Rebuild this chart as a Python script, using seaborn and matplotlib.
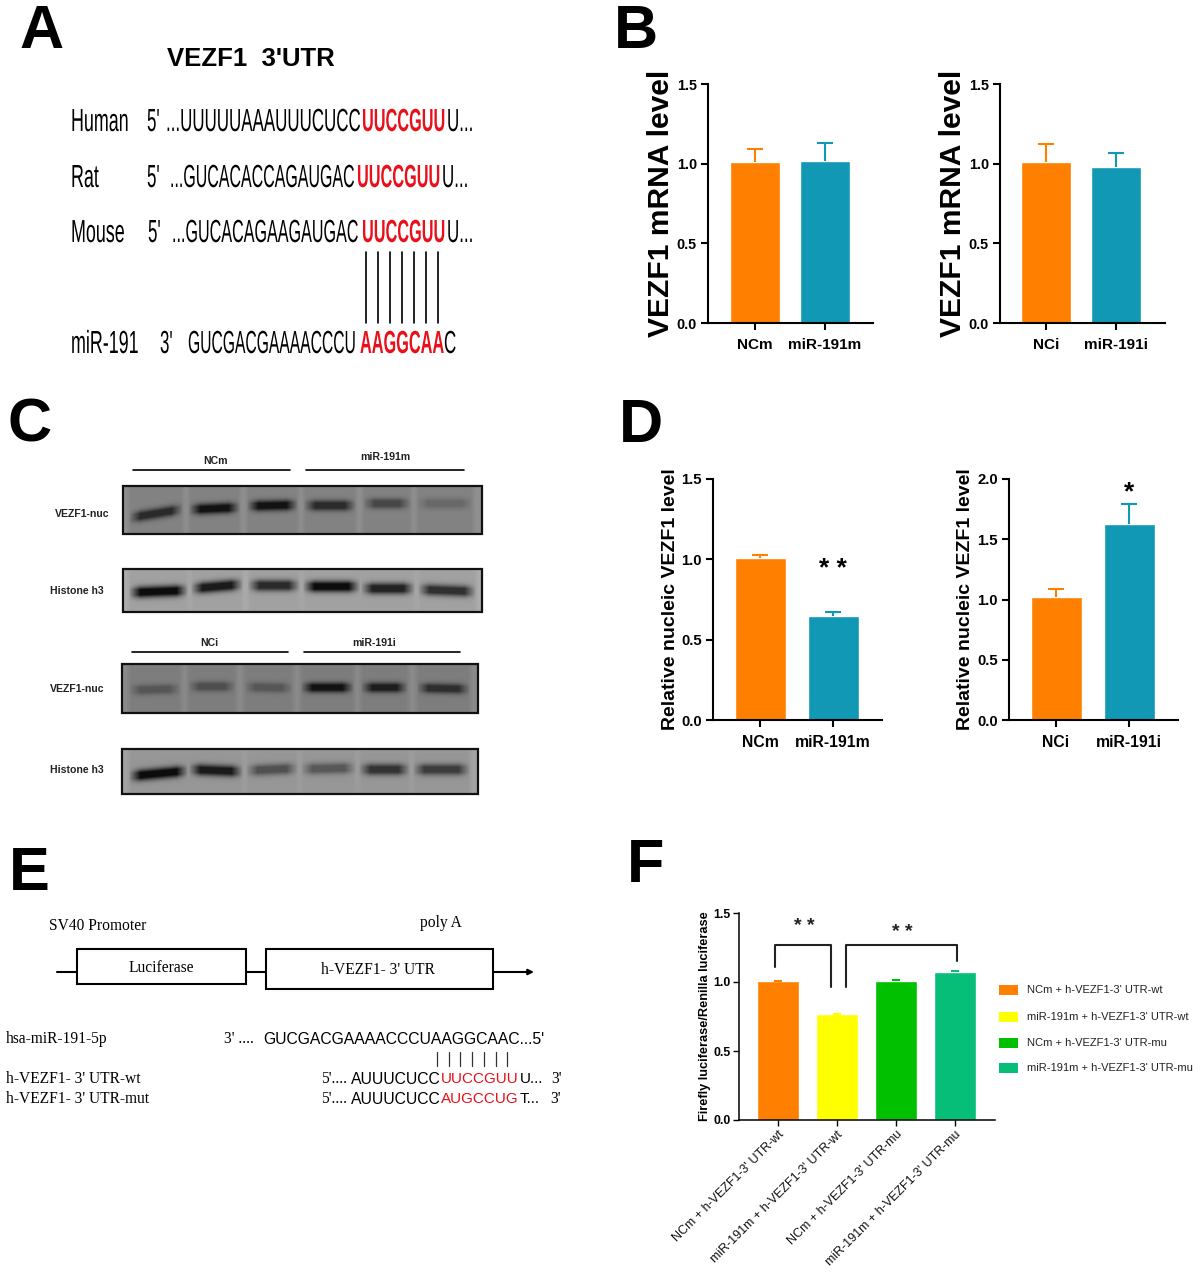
import numpy as np
import pandas as pd
import matplotlib
matplotlib.use('Agg')
import matplotlib.pyplot as plt
from matplotlib.patches import Rectangle
from matplotlib.patheffects import AbstractPathEffect
from matplotlib.transforms import Affine2D
import seaborn as sns

# bar data
orange = '#FF8000'
teal = '#1098B4'
b1_names = ['NCm', 'miR-191m']
b1_vals = [1.01, 1.015]
b1_err = [0.08, 0.115]
b2_names = ['NCi', 'miR-191i']
b2_vals = [1.01, 0.98]
b2_err = [0.115, 0.09]
d1_vals = [1.01, 0.65]
d1_err = [0.015, 0.02]
d2_vals = [1.02, 1.63]
d2_err = [0.07, 0.165]
f_names = ["NCm + h-VEZF1-3' UTR-wt", "miR-191m + h-VEZF1-3' UTR-wt",
           "NCm + h-VEZF1-3' UTR-mu", "miR-191m + h-VEZF1-3' UTR-mu"]
f_vals = [1.005, 0.765, 1.01, 1.075]
f_err = [0.002, 0.001, 0.008, 0.008]
f_colors = ['#FF8000', '#FFFF00', '#00C000', '#06BE78']

# band darkness per lane (0-1) for the four blots
blot1_dark = [0.75, 0.95, 0.95, 0.75, 0.5, 0.22]
blot2_dark = [1.0, 0.9, 0.8, 1.0, 0.85, 0.75]
blot3_dark = [0.35, 0.42, 0.35, 0.95, 0.85, 0.7]
blot4_dark = [1.0, 0.9, 0.5, 0.45, 0.72, 0.65]

W, H = 1200, 1272
sns.set_theme(style='ticks')
fig = plt.figure(figsize=(W / 100, H / 100), dpi=100)

# whole figure axes in pixels, used for the non chart panels
bg = fig.add_axes([0, 0, 1, 1])
bg.set_xlim(0, W)
bg.set_ylim(H, 0)
bg.axis('off')

SANS = 'Liberation Sans'
SERIF = 'Liberation Serif'


class Squeeze(AbstractPathEffect):
    # the panel A font is a very narrow one, none is installed so squeeze the glyphs sideways
    def __init__(self, x0, sx):
        super().__init__()
        self.x0, self.sx = x0, sx

    def draw_path(self, renderer, gc, tpath, affine, rgbFace=None):
        squeeze = Affine2D().translate(-self.x0, 0).scale(self.sx, 1).translate(self.x0, 0)
        renderer.draw_path(gc, tpath, affine + squeeze, rgbFace)


def txt(x, y, s, size, family=SANS, weight='normal', color='black', ha='left', **kw):
    return bg.text(x, y, s, fontsize=size, family=family, weight=weight, color=color,
                   ha=ha, va='center', **kw)


def narrow(x, y, s, weight='normal', color='black', sx=0.53):
    t = txt(x, y, s, 23, weight=weight, color=color)
    t.set_path_effects([Squeeze(bg.transData.transform((x, y))[0], sx)])


for letter, x, y in [('A', 19, 33), ('B', 614, 33), ('C', 8, 426), ('D', 619, 426),
                     ('E', 9, 875), ('F', 627, 866)]:
    txt(x, y, letter, 44, weight='bold')

# panel A
txt(167, 59, "VEZF1  3'UTR", 18.5, weight='bold')
rows = [('Human', 123, 147, 166, '...UUUUUAAAUUUCUCC', 0.53, 362, 'UUCCGUU', 'U...'),
        ('Rat', 179, 147, 170, '...GUCACACCAGAUGAC', 0.50, 357, 'UUCCGUU', 'U...'),
        ('Mouse', 234, 148, 172, '...GUCACAGAAGAUGAC', 0.505, 362, 'UUCCGUU', 'U...')]
for name, y, x5, xs, left, sq, xr, red, right in rows:
    narrow(71, y, name, sx=0.56)
    narrow(x5, y, "5'")
    narrow(xs, y, left, sx=sq)
    narrow(xr, y, red, weight='bold', color='#E8101A', sx=0.51)
    narrow(xr + 85, y, right)
narrow(71, 345, 'miR-191', sx=0.56)
narrow(160, 345, "3'")
narrow(188, 345, 'GUCGACGAAAACCCU', sx=0.49)
narrow(360, 345, 'AAGGCAA', weight='bold', color='#E8101A', sx=0.51)
narrow(444, 345, 'C')
for x in [366, 378, 390, 402, 414, 426, 438]:
    bg.plot([x, x], [252, 323], color='black', lw=1.2)


# panel C blots
def draw_blot(box, lanes, centres, tilts, dark, back, sigma):
    x0, x1, y0, y1 = box
    xs, ys = np.meshgrid(np.arange(x0, x1), np.arange(y0, y1))
    img = np.full(xs.shape, back, dtype=float)
    for (a, b), c, t, d in zip(lanes, centres, tilts, dark):
        across = np.clip((xs - a + 3) / 12, 0, 1) * np.clip((b - xs + 3) / 12, 0, 1)
        yc = c + t * (xs - (a + b) / 2) / (b - a)
        band = np.minimum(1, 1.25 * np.exp(-(ys - yc) ** 2 / (2 * sigma ** 2)))
        img -= 0.05 * np.clip((xs - a + 6) / 6, 0, 1) * np.clip((b - xs + 6) / 6, 0, 1)
        img -= d * (back - 0.1) * across * band
    bg.imshow(img, extent=(x0, x1, y1, y0), cmap='gray', vmin=0, vmax=1, aspect='auto',
              interpolation='bilinear', zorder=1)
    bg.add_patch(Rectangle((x0, y0), x1 - x0, y1 - y0, fill=False, ec='#111111', lw=1.6, zorder=2))


lanes1 = [(131, 180), (191, 237), (249, 295), (306, 353), (365, 408), (419, 470)]
lanes2 = [(131, 185), (193, 240), (250, 297), (305, 357), (363, 412), (420, 473)]
lanes3 = [(131, 178), (190, 233), (246, 290), (303, 351), (363, 405), (419, 467)]
lanes4 = [(131, 185), (191, 240), (248, 295), (303, 353), (361, 407), (415, 467)]
draw_blot((123, 482, 486, 534), lanes1, [513, 508, 505, 505, 503, 503], [-8, -2, -1, 0, 0, 0],
          blot1_dark, 0.56, 3.6)
draw_blot((123, 482, 569, 612), lanes2, [591, 586, 585, 586, 588, 590], [-2, -4, 0, 0, 0, 2],
          blot2_dark, 0.68, 3.8)
draw_blot((122, 478, 664, 713), lanes3, [689, 686, 687, 687, 687, 688], [-1, 0, 1, 0, 0, 1],
          blot3_dark, 0.54, 3.4)
draw_blot((122, 478, 749, 794), lanes4, [773, 770, 769, 768, 769, 769], [-5, 2, -2, -1, 0, 0],
          blot4_dark, 0.64, 3.8)
bg.set_xlim(0, W)
bg.set_ylim(H, 0)

for x, y, s in [(55, 514, 'VEZF1-nuc'), (50, 591, 'Histone h3'), (50, 689, 'VEZF1-nuc'), (50, 770, 'Histone h3')]:
    txt(x, y, s, 7.6, weight='bold', color='#222222')
for x, y, s in [(215, 461, 'NCm'), (385, 457, 'miR-191m'), (209, 643, 'NCi'), (374, 643, 'miR-191i')]:
    txt(x, y, s, 7.6, weight='bold', ha='center', color='#222222')
for a, b, y in [(133, 290, 470), (306, 464, 470), (132, 288, 652), (304, 460, 652)]:
    bg.plot([a, b], [y, y], color='black', lw=1.2)

# panel E
txt(49, 926, 'SV40 Promoter', 11.2, family=SERIF)
txt(420, 923, 'poly A', 11.2, family=SERIF)
bg.add_patch(Rectangle((77, 949), 169, 35, fill=False, ec='black', lw=1.5))
bg.add_patch(Rectangle((266, 949), 227, 40, fill=False, ec='black', lw=1.5))
txt(161, 968, 'Luciferase', 11.2, family=SERIF, ha='center')
txt(378, 970, "h-VEZF1- 3' UTR", 11.2, family=SERIF, ha='center')
bg.plot([57, 77], [972, 972], color='black', lw=1.5)
bg.plot([246, 266], [972, 972], color='black', lw=1.5)
bg.annotate('', xy=(534, 972), xytext=(493, 972),
            arrowprops=dict(arrowstyle='-|>', color='black', lw=1.5, mutation_scale=8, shrinkA=0, shrinkB=0))
txt(6, 1039, 'hsa-miR-191-5p', 11.2, family=SERIF)
txt(6, 1079, "h-VEZF1- 3' UTR-wt", 11.2, family=SERIF)
txt(6, 1099, "h-VEZF1- 3' UTR-mut", 11.2, family=SERIF)
txt(224, 1039, "3' ....", 11.2, family=SERIF)
txt(263, 1039, 'GUCGACGAAAACCCUAAGGCAAC...5\'', 11.3)
for x in [437, 449, 460, 472, 484, 496, 507]:
    bg.plot([x, x], [1052, 1066], color='#333333', lw=0.9)
for y, red, rest, x3 in [(1079, 'UUCCGUU', 'U...', 551), (1099, 'AUGCCUG', 'T...', 550)]:
    txt(321, y, "5'....", 11.2, family=SERIF)
    txt(441, y, 'AUUUCUCC', 11.3, ha='right')
    txt(441, y, red, 11, color='#E8101A')
    txt(520, y, rest, 11)
    txt(x3, y, "3'", 11.2, family=SERIF)


def bar_panel(box, names, vals, errs, colors, ymax, yticks, step, width, ylabel, lab_x,
              ylab_size, tick_size, cap=6):
    left, right, top, bottom = box
    ax = fig.add_axes([left / W, 1 - bottom / H, (right - left) / W, (bottom - top) / H])
    ax.patch.set_alpha(0)
    df = pd.DataFrame({'group': names, 'value': vals})
    sns.barplot(data=df, x='group', y='value', hue='group', palette=colors, legend=False,
                width=width / step, saturation=1, ax=ax, errorbar=None)
    for i, (v, e, c) in enumerate(zip(vals, errs, colors)):
        eb = ax.errorbar(i, v, yerr=[[0], [e]], color=c, capsize=cap, lw=1.5, capthick=1.5)
        eb[1][0].set_visible(False)  # only the top cap
    ax.set_ylim(0, ymax)
    ax.set_yticks(yticks)
    ax.set_yticklabels(['%.1f' % t for t in yticks])
    sns.despine(ax=ax)
    for s in ['left', 'bottom']:
        ax.spines[s].set_linewidth(1.5)
        ax.spines[s].set_color('black')
    ax.tick_params(width=1.5, length=5, color='black')
    ax.tick_params(axis='x', pad=6)
    ax.tick_params(axis='y', pad=3)
    ax.set_xlabel('')
    ax.set_ylabel(ylabel, fontsize=ylab_size, family=SANS, weight='bold', color='black')
    ax.yaxis.set_label_coords((lab_x - left) / (right - left), 0.5)
    for t in ax.get_yticklabels():
        t.set(fontsize=tick_size - 0.6, family=SANS, weight='bold', color='black')
    for t in ax.get_xticklabels():
        t.set(fontsize=tick_size, family=SANS, weight='bold', color='black')
    return ax


def set_xpos(ax, left, right, first, step):
    ax.set_xlim((left - first) / step, (right - first) / step)


pair = [orange, teal]
ax = bar_panel((708, 873, 84, 323), b1_names, b1_vals, b1_err, pair, 1.5, [0, 0.5, 1.0, 1.5], 70, 50,
               'VEZF1 mRNA level', 675, 21.6, 11)
set_xpos(ax, 708, 873, 755, 70)
ax = bar_panel((1000, 1165, 84, 323), b2_names, b2_vals, b2_err, pair, 1.5, [0, 0.5, 1.0, 1.5], 70, 50,
               'VEZF1 mRNA level', 967, 21.6, 11)
set_xpos(ax, 1000, 1165, 1046, 70)

ax = bar_panel((713, 882, 479, 720), b1_names, d1_vals, d1_err, pair, 1.5, [0, 0.5, 1.0, 1.5], 73, 51,
               'Relative nucleic VEZF1 level', 679, 14, 11.3)
set_xpos(ax, 713, 882, 760, 73)
ax.text(1, 0.94, '* *', fontsize=19, weight='bold', family=SANS, ha='center', va='center', color='black')
ax = bar_panel((1009, 1178, 479, 720), b2_names, d2_vals, d2_err, pair, 2.0, [0, 0.5, 1.0, 1.5, 2.0], 73, 51,
               'Relative nucleic VEZF1 level', 974, 14, 11.3)
set_xpos(ax, 1009, 1178, 1056, 73)
ax.text(1, 1.89, '*', fontsize=19, weight='bold', family=SANS, ha='center', va='center', color='black')

# panel F
ax = bar_panel((739, 995, 913, 1120), f_names, f_vals, f_err, f_colors, 1.5, [0, 0.5, 1.0, 1.5], 59, 42,
               'Firefly luciferase/Renilla luciferase', 711, 9.15, 9.4, cap=3)
set_xpos(ax, 739, 995, 778, 59)
ax.tick_params(width=1, length=4, pad=2)
for s in ['left', 'bottom']:
    ax.spines[s].set_linewidth(1.1)
for t in ax.get_xticklabels():
    t.set(rotation=45, ha='right', rotation_mode='anchor', fontsize=9, family=SANS, weight='normal', color='#111111')
ax.plot([-0.05, -0.05, 0.9, 0.9], [1.109, 1.268, 1.268, 0.964], color='#222222', lw=1.5, clip_on=False)
ax.plot([1.15, 1.15, 3.03, 3.03], [0.964, 1.268, 1.268, 1.152], color='#222222', lw=1.5, clip_on=False)
ax.text(0.45, 1.40, '* *', fontsize=14, weight='bold', family=SANS, ha='center', va='center', color='#222222')
ax.text(2.1, 1.36, '* *', fontsize=14, weight='bold', family=SANS, ha='center', va='center', color='#222222')

for name, col, y in zip(f_names, f_colors, [990, 1017, 1043, 1068]):
    bg.add_patch(Rectangle((999, y - 5), 19, 10, color=col, lw=0))
    txt(1027, y, name, 8, color='#222222')

fig.savefig('out.png', dpi=100)
